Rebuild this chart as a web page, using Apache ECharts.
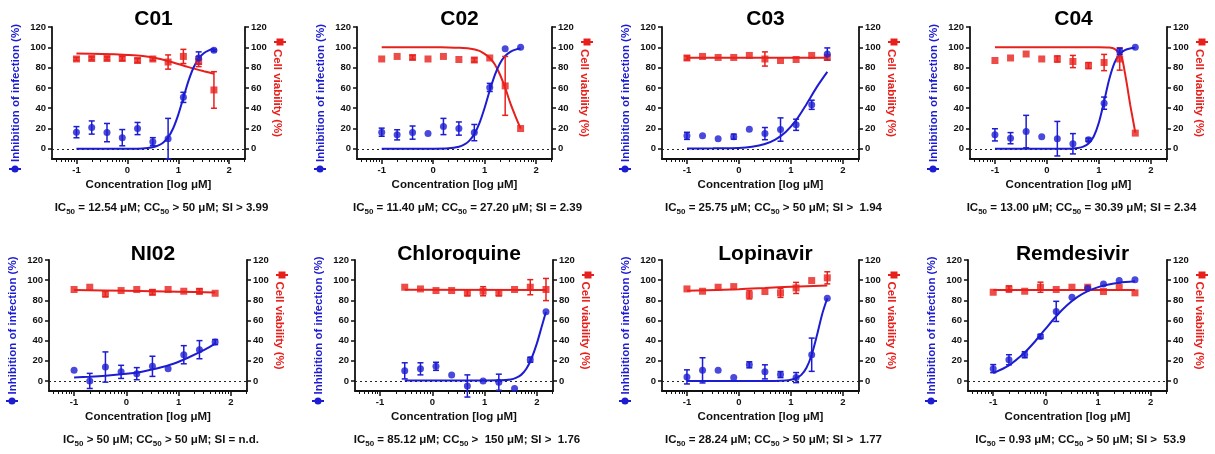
<!DOCTYPE html>
<html><head><meta charset="utf-8">
<script src="https://cdn.jsdelivr.net/npm/echarts@6/dist/echarts.min.js"></script>
<style>html,body{margin:0;padding:0;background:#fff}#c{width:1215px;height:454px}</style>
</head><body><div id="c"></div><script>
// ---------- tick labels ----------
const xTickLabels = [-1, 0, 1, 2];
const yTickLabels = [0, 20, 40, 60, 80, 100, 120];
const xMinorMultipliers = [2, 3, 4, 5, 6, 7, 8, 9];

// ---------- panel texts ----------
const panelTitles = ['C01', 'C02', 'C03', 'C04', 'NI02', 'Chloroquine', 'Lopinavir', 'Remdesivir'];
const panelCaptions = [
  'IC{s|50} = 12.54 μM; CC{s|50} > 50 μM; SI > 3.99',
  'IC{s|50} = 11.40 μM; CC{s|50} = 27.20 μM; SI = 2.39',
  'IC{s|50} = 25.75 μM; CC{s|50} > 50 μM; SI >  1.94',
  'IC{s|50} = 13.00 μM; CC{s|50} = 30.39 μM; SI = 2.34',
  'IC{s|50} > 50 μM; CC{s|50} > 50 μM; SI = n.d.',
  'IC{s|50} = 85.12 μM; CC{s|50} >  150 μM; SI >  1.76',
  'IC{s|50} = 28.24 μM; CC{s|50} > 50 μM; SI >  1.77',
  'IC{s|50} = 0.93 μM; CC{s|50} > 50 μM; SI >  53.9'
];
const xAxisName = 'Concentration [log μM]';
const leftAxisName = 'Inhibition of infection (%)';
const rightAxisName = 'Cell viability (%)';

// ---------- concentrations (log10 μM) ----------
const concStd = [-1, -0.7, -0.4, -0.1, 0.2, 0.5, 0.8, 1.1, 1.4, 1.7];
const concCQ = [-0.528, -0.227, 0.070, 0.370, 0.671, 0.972, 1.273, 1.574, 1.875, 2.176];

// ---------- C01 ----------
const c01Inhib = [16.4, 21, 16, 11, 20, 7, 10, 50.7, 89.5, 97];
const c01InhibErr = [5.5, 6.5, 9, 8, 6, 4, 20, 5, 6, 1];
const c01Viab = [88.5, 89, 89, 89, 87, 88.5, 85.5, 91, 86, 58];
const c01ViabErr = [1.5, 1.5, 1.5, 2, 2, 1.5, 7, 7, 5, 18];
const c01InhibFitX = [-1, 0, 0.3, 0.5, 0.6, 0.7, 0.8, 0.9, 1.0, 1.1, 1.2, 1.3, 1.4, 1.5, 1.6, 1.7];
const c01InhibFitY = [0, 0.1, 0.4, 1.6, 3.1, 6.0, 11.3, 20.3, 33.7, 50.3, 66.9, 80.1, 89, 94.1, 97, 98.5];
const c01ViabFitX = [-1, -0.5, 0, 0.3, 0.6, 0.9, 1.2, 1.5, 1.7];
const c01ViabFitY = [94, 93.5, 92.5, 91.5, 89, 85, 80.5, 76.5, 74];

// ---------- C02 ----------
const c02Inhib = [16.4, 13.8, 16, 15, 22, 20, 16, 60.5, 98.7, 100];
const c02InhibErr = [4, 5, 6.5, 0, 8, 6.5, 8, 4, 0, 0];
const c02Viab = [88.5, 91, 90, 88.5, 91, 88, 87.5, 89.5, 62, 20];
const c02ViabErr = [0, 0, 2, 0, 0, 0, 2, 0, 29, 0];
const c02InhibFitX = [-1, 0, 0.3, 0.5, 0.6, 0.7, 0.8, 0.9, 1.0, 1.1, 1.2, 1.3, 1.4, 1.5, 1.6, 1.7];
const c02InhibFitY = [0, 0.1, 0.5, 2.1, 4.1, 7.9, 14.5, 25.3, 40.3, 57.4, 72.9, 84.3, 91.5, 95.5, 97.7, 98.8];
const c02ViabFitX = [-1, 0, 0.3, 0.5, 0.7, 0.9, 1.0, 1.1, 1.2, 1.3, 1.4, 1.5, 1.6, 1.7];
const c02ViabFitY = [100, 100, 99.9, 99.6, 98.8, 96.5, 93.5, 89.5, 83, 73, 60, 45, 32, 20];

// ---------- C03 ----------
const c03Inhib = [12.8, 12.8, 10, 12, 19.4, 15, 19, 23.7, 43.4, 93.4];
const c03InhibErr = [3.5, 0, 0, 2.5, 0, 6, 11.5, 5.5, 4.5, 6];
const c03Viab = [89.5, 91, 90, 90, 92, 88.5, 87, 88, 92, 90];
const c03ViabErr = [2, 0, 0, 0, 0, 7, 0, 0, 0, 0];
const c03InhibFitX = [-1, -0.5, 0, 0.25, 0.5, 0.7, 0.9, 1.1, 1.3, 1.5, 1.7];
const c03InhibFitY = [0.3, 0.5, 0.9, 2.0, 4.7, 9.0, 16.5, 28.2, 44, 61, 75.8];
const c03ViabFitX = [-1, 1.7];
const c03ViabFitY = [89.8, 89.8];

// ---------- C04 ----------
const c04Inhib = [13.8, 10.5, 17, 12, 10, 5, 9, 45, 96, 100];
const c04InhibErr = [6, 5.5, 16, 0, 17, 10, 1.5, 6, 3, 0];
const c04Viab = [87, 89.5, 93.4, 88.5, 88.5, 86, 82, 85, 88.5, 15.5];
const c04ViabErr = [0, 0, 0, 0, 3, 6, 3, 8, 11, 0];
const c04InhibFitX = [-1, 0, 0.4, 0.6, 0.7, 0.8, 0.9, 1.0, 1.1, 1.2, 1.3, 1.4, 1.5, 1.6, 1.7];
const c04InhibFitY = [0, 0, 0.1, 0.9, 2.2, 5.3, 12.2, 25.9, 46.8, 68.8, 84.7, 93.3, 97.2, 98.9, 99.5];
const c04ViabFitX = [-1, 0, 1.0, 1.2, 1.3, 1.4, 1.45, 1.5, 1.55, 1.6, 1.65, 1.7];
const c04ViabFitY = [100, 100, 100, 99.7, 98.5, 94, 88, 75, 60, 44, 30, 16];

// ---------- NI02 ----------
const ni02Inhib = [10.5, 0, 13.8, 9, 7.2, 14.5, 12.2, 26, 31, 38.6];
const ni02InhibErr = [0, 7.5, 15, 6.5, 6, 10, 0, 9, 9, 2.5];
const ni02Viab = [90.7, 93, 86.4, 89.7, 90.7, 88, 90.7, 89, 89, 87];
const ni02ViabErr = [0, 0, 3, 0, 0, 2.5, 0, 0, 2.5, 0];
const ni02InhibFitX = [-1, -0.7, -0.4, 0, 0.3, 0.6, 0.9, 1.2, 1.5, 1.7];
const ni02InhibFitY = [3.5, 4.2, 5.2, 7.2, 9.2, 12.5, 17, 23.5, 31, 37];
const ni02ViabFitX = [-1, 0, 1, 1.7];
const ni02ViabFitY = [90.2, 89.5, 88.5, 87.8];

// ---------- Chloroquine ----------
const cqInhib = [10, 12, 14.5, 6, -5, 0, -1.3, -7.6, 21, 68.6];
const cqInhibErr = [8, 6, 4, 0, 11, 0, 8, 0, 2.5, 0];
const cqViab = [93, 91.3, 89.7, 89.7, 87.4, 89, 87.4, 90.7, 93, 90.7];
const cqViabErr = [0, 0, 0, 0, 3, 4.5, 3, 0, 7.5, 11];
const cqInhibFitX = [-0.528, 0, 0.5, 1.0, 1.3, 1.5, 1.6, 1.7, 1.8, 1.9, 2.0, 2.1, 2.176];
const cqInhibFitY = [0.5, 0.5, 0.5, 0.5, 0.6, 1.5, 3, 6, 12, 22.5, 37, 55, 68.6];
const cqViabFitX = [-0.528, 2.176];
const cqViabFitY = [90.6, 90.3];

// ---------- Lopinavir ----------
const lpvInhib = [4, 10.5, 10.5, 3.3, 16, 9, 6.3, 3.3, 26, 82];
const lpvInhibErr = [7, 12.5, 0, 0, 3, 7, 3, 5, 16.5, 0];
const lpvViab = [91.3, 89, 93, 93.6, 85.4, 88.7, 87.4, 92.3, 99.6, 102.3];
const lpvViabErr = [0, 0, 0, 0, 4, 0, 4.5, 5.5, 0, 6];
const lpvInhibFitX = [-1, 0, 0.5, 0.9, 1.0, 1.1, 1.2, 1.3, 1.4, 1.5, 1.6, 1.7];
const lpvInhibFitY = [0, 0, 0, 0.5, 1.1, 2.7, 6, 13, 26, 45, 66, 82];
const lpvViabFitX = [-1, 0, 0.5, 1.0, 1.7];
const lpvViabFitY = [89.5, 91, 92.2, 93.5, 94.7];

// ---------- Remdesivir ----------
const rdvInhib = [12.2, 21, 26, 44.2, 69, 83, 92, 96.3, 99.6, 100.3];
const rdvInhibErr = [4, 5, 3, 2, 10, 0, 0, 0, 0, 0];
const rdvViab = [88, 91.3, 89, 93, 90.7, 93, 93, 88.7, 93, 87.4];
const rdvViabErr = [0, 3, 0, 5, 0, 0, 0, 0, 0, 0];
const rdvInhibFitX = [-1, -0.7, -0.4, -0.2, 0, 0.2, 0.4, 0.6, 0.8, 1.0, 1.2, 1.4, 1.7];
const rdvInhibFitY = [7.9, 15.5, 28.2, 39.4, 51.9, 64.2, 74.8, 83.1, 89.1, 93.1, 95.7, 97.4, 98.8];
const rdvViabFitX = [-1, 1.7];
const rdvViabFitY = [90.3, 90.3];

// ---------- assemble ----------
const panels = [
  [concStd, c01Inhib, c01InhibErr, c01Viab, c01ViabErr, c01InhibFitX, c01InhibFitY, c01ViabFitX, c01ViabFitY],
  [concStd, c02Inhib, c02InhibErr, c02Viab, c02ViabErr, c02InhibFitX, c02InhibFitY, c02ViabFitX, c02ViabFitY],
  [concStd, c03Inhib, c03InhibErr, c03Viab, c03ViabErr, c03InhibFitX, c03InhibFitY, c03ViabFitX, c03ViabFitY],
  [concStd, c04Inhib, c04InhibErr, c04Viab, c04ViabErr, c04InhibFitX, c04InhibFitY, c04ViabFitX, c04ViabFitY],
  [concStd, ni02Inhib, ni02InhibErr, ni02Viab, ni02ViabErr, ni02InhibFitX, ni02InhibFitY, ni02ViabFitX, ni02ViabFitY],
  [concCQ, cqInhib, cqInhibErr, cqViab, cqViabErr, cqInhibFitX, cqInhibFitY, cqViabFitX, cqViabFitY],
  [concStd, lpvInhib, lpvInhibErr, lpvViab, lpvViabErr, lpvInhibFitX, lpvInhibFitY, lpvViabFitX, lpvViabFitY],
  [concStd, rdvInhib, rdvInhibErr, rdvViab, rdvViabErr, rdvInhibFitX, rdvInhibFitY, rdvViabFitX, rdvViabFitY]
];

// ---------- layout ----------
const BLUE = '#1c1cd2';
const RED = '#e8201c';
const FONT = '"Liberation Sans", Arial, sans-serif';
const gridLefts = [52, 357, 662, 970, 49, 355, 662, 968];
const gridWidths = [193, 195, 197, 197, 198, 198, 197, 199];
const rowTops = [27, 260];
const rowHeights = [132, 131];
const X_MIN = -1.48, X_MAX = 2.31;
const Y_MIN = -10, Y_MAX = 120;

const minorTicks = [];
for (let d = -2; d <= 2; d++) {
  xMinorMultipliers.forEach(m => {
    const v = Math.log10(m) + d;
    if (v > X_MIN && v < X_MAX) minorTicks.push(v);
  });
}

const grids = [], xAxes = [], yAxes = [], series = [], titles = [], graphics = [];

function errRender(color) {
  return function (params, api) {
    const x = api.value(0), y = api.value(1), e = api.value(2);
    if (!e) return null;
    const top = api.coord([x, y + e]);
    const bot = api.coord([x, y - e]);
    const w = 3;
    const st = { stroke: color, lineWidth: 1.5 };
    return {
      type: 'group',
      children: [
        { type: 'line', shape: { x1: top[0], y1: top[1], x2: bot[0], y2: bot[1] }, style: st },
        { type: 'line', shape: { x1: top[0] - w, y1: top[1], x2: top[0] + w, y2: top[1] }, style: st },
        { type: 'line', shape: { x1: bot[0] - w, y1: bot[1], x2: bot[0] + w, y2: bot[1] }, style: st }
      ]
    };
  };
}

const axisLineStyle = { color: '#111', width: 1.8 };
const tickLabelStyle = { color: '#111', fontSize: 9.5, fontWeight: 'bold', fontFamily: FONT };

panels.forEach((p, i) => {
  const [xs, inh, inhErr, via, viaErr, ifx, ify, vfx, vfy] = p;
  const row = i < 4 ? 0 : 1;
  const top = rowTops[row], h = rowHeights[row];
  const left = gridLefts[i], w = gridWidths[i];
  grids.push({ left: left, top: top, width: w, height: h, containLabel: false, outerBoundsMode: 'none' });

  xAxes[i] = {
    gridIndex: i, type: 'value', min: X_MIN, max: X_MAX, position: 'bottom',
    axisLine: { show: true, onZero: false, lineStyle: axisLineStyle },
    axisTick: { show: true, length: 5, lineStyle: { color: '#111', width: 1.5 }, customValues: xTickLabels },
    axisLabel: { show: true, customValues: xTickLabels, margin: 6, ...tickLabelStyle, formatter: v => String(v) },
    splitLine: { show: false },
    name: xAxisName, nameLocation: 'middle', nameGap: 20, nameMoveOverlap: false,
    nameTextStyle: { color: '#111', fontSize: 11.5, fontWeight: 'bold', fontFamily: FONT }
  };
  xAxes[8 + i] = {
    gridIndex: i, type: 'value', min: X_MIN, max: X_MAX, position: 'bottom',
    axisLine: { show: false, onZero: false },
    axisTick: { show: true, length: 3, lineStyle: { color: '#111', width: 1 }, customValues: minorTicks },
    axisLabel: { show: false }, splitLine: { show: false }
  };

  const nameStyle = (c) => ({ color: c, fontSize: 11.5, fontWeight: 'bold', fontFamily: FONT });
  yAxes[2 * i] = {
    gridIndex: i, type: 'value', min: Y_MIN, max: Y_MAX, position: 'left',
    axisLine: { show: true, onZero: false, lineStyle: axisLineStyle },
    axisTick: { show: true, length: 4, lineStyle: { color: '#111', width: 1.5 }, customValues: yTickLabels },
    axisLabel: { show: true, customValues: yTickLabels, margin: 6, ...tickLabelStyle },
    splitLine: { show: false },
    name: leftAxisName, nameLocation: 'middle', nameRotate: 90, nameGap: 30, nameMoveOverlap: false,
    nameTextStyle: nameStyle(BLUE)
  };
  yAxes[2 * i + 1] = {
    gridIndex: i, type: 'value', min: Y_MIN, max: Y_MAX, position: 'right',
    axisLine: { show: true, onZero: false, lineStyle: axisLineStyle },
    axisTick: { show: true, length: 4, lineStyle: { color: '#111', width: 1.5 }, customValues: yTickLabels },
    axisLabel: { show: true, customValues: yTickLabels, margin: 6, ...tickLabelStyle },
    splitLine: { show: false },
    name: rightAxisName, nameLocation: 'middle', nameRotate: -90, nameGap: 26, nameMoveOverlap: false,
    nameTextStyle: nameStyle(RED)
  };

  const yl = 2 * i, yr = 2 * i + 1;
  // fitted curves
  series.push({
    type: 'line', xAxisIndex: i, yAxisIndex: yr, data: vfx.map((x, k) => [x, vfy[k]]),
    smooth: 0.3, showSymbol: false, symbol: 'none', lineStyle: { color: RED, width: 2 }, z: 3, silent: true
  });
  series.push({
    type: 'line', xAxisIndex: i, yAxisIndex: yl, data: ifx.map((x, k) => [x, ify[k]]),
    smooth: 0.3, showSymbol: false, symbol: 'none', lineStyle: { color: BLUE, width: 2 }, z: 4, silent: true,
    markLine: {
      silent: true, symbol: 'none', label: { show: false },
      lineStyle: { type: [2, 3], color: '#222', width: 1 },
      data: [{ yAxis: 0 }], z: 1
    }
  });
  // error bars
  series.push({
    type: 'custom', xAxisIndex: i, yAxisIndex: yr, renderItem: errRender(RED),
    data: xs.map((x, k) => [x, via[k], viaErr[k]]), encode: { x: 0, y: 1 }, z: 5, silent: true
  });
  series.push({
    type: 'custom', xAxisIndex: i, yAxisIndex: yl, renderItem: errRender(BLUE),
    data: xs.map((x, k) => [x, inh[k], inhErr[k]]), encode: { x: 0, y: 1 }, z: 6, silent: true
  });
  // points
  series.push({
    type: 'scatter', xAxisIndex: i, yAxisIndex: yr, symbol: 'rect', symbolSize: 7,
    itemStyle: { color: RED }, data: xs.map((x, k) => [x, via[k]]), z: 7, silent: true
  });
  series.push({
    type: 'scatter', xAxisIndex: i, yAxisIndex: yl, symbol: 'circle', symbolSize: 7,
    itemStyle: { color: BLUE }, data: xs.map((x, k) => [x, inh[k]]), z: 8, silent: true
  });

  const cx = left + w / 2;
  titles.push({
    text: panelTitles[i], left: cx, top: row === 0 ? 4 : 239, textAlign: 'center',
    textStyle: { fontSize: 21, fontWeight: 'bold', color: '#000', fontFamily: FONT }
  });
  titles.push({
    text: panelCaptions[i], left: cx + 8, top: row === 0 ? 195 : 427, textAlign: 'center',
    textStyle: {
      fontSize: 11.5, fontWeight: 'bold', color: '#111', fontFamily: FONT,
      rich: { s: { fontSize: 8, fontWeight: 'bold', color: '#111', fontFamily: FONT, verticalAlign: 'bottom', lineHeight: 16 } }
    }
  });

  // legend markers
  const gb = top + h;
  graphics.push({
    type: 'group', x: left - 37, y: gb + 10, silent: true,
    children: [
      { type: 'line', shape: { x1: -6, y1: 0, x2: 6, y2: 0 }, style: { stroke: BLUE, lineWidth: 2 } },
      { type: 'circle', shape: { cx: 0, cy: 0, r: 3.5 }, style: { fill: BLUE } }
    ]
  });
  graphics.push({
    type: 'group', x: left + w + 35, y: top + 15, silent: true,
    children: [
      { type: 'line', shape: { x1: -6, y1: 0, x2: 6, y2: 0 }, style: { stroke: RED, lineWidth: 2 } },
      { type: 'rect', shape: { x: -3.5, y: -3.5, width: 7, height: 7 }, style: { fill: RED } }
    ]
  });
});

const chart = echarts.init(document.getElementById('c'), null, { renderer: 'canvas' });
chart.setOption({
  animation: false,
  backgroundColor: '#fff',
  title: titles,
  grid: grids,
  xAxis: xAxes,
  yAxis: yAxes,
  series: series,
  graphic: { elements: graphics }
});
</script></body></html>
